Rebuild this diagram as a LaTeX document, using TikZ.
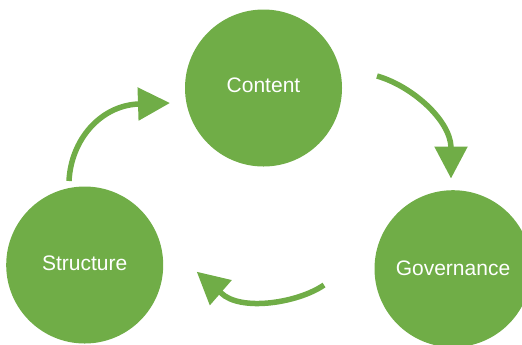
\documentclass[tikz,border=0pt]{standalone}
\usepackage{fontspec}
\setmainfont{Liberation Sans}
\usetikzlibrary{arrows.meta}
\definecolor{leaf}{HTML}{70AD47}
\begin{document}
\begin{tikzpicture}[x=1bp,y=-1bp,
  bubble/.style={circle,fill=leaf,draw=none,minimum size=157bp,inner sep=0pt,
    text=white,font=\fontsize{21bp}{25bp}\selectfont},
  flow/.style={draw=leaf,line width=5.5bp,-{Triangle[length=32bp,width=32bp]}}]
\useasboundingbox (0,0) rectangle (522,344);
\clip (0,0) rectangle (522,344);
\node[bubble] (content) at (263.5,88) {\raisebox{5bp}{Content}};
\node[bubble] (structure) at (84.7,265) {\raisebox{3.5bp}{Structure}};
\node[bubble] (governance) at (453,268.7) {\raisebox{1.5bp}{Governance}};
% arrow end points
\coordinate (a1s) at (69,181);
\coordinate (a1t) at (170,103);
\coordinate (a2s) at (377,76);
\coordinate (a2t) at (451,178.5);
\coordinate (a3s) at (324,285);
\coordinate (a3t) at (196.7,271.7);
\draw[flow] (a1s) .. controls (71,140) and (100,106) .. (138,104) -- (a1t);
\draw[flow] (a2s) .. controls (412,86) and (450,120) .. (451,147) -- (a2t);
\draw[flow] (a3s) .. controls (298,303) and (240,312) .. (220.8,292.7) -- (a3t);
\end{tikzpicture}
\end{document}
